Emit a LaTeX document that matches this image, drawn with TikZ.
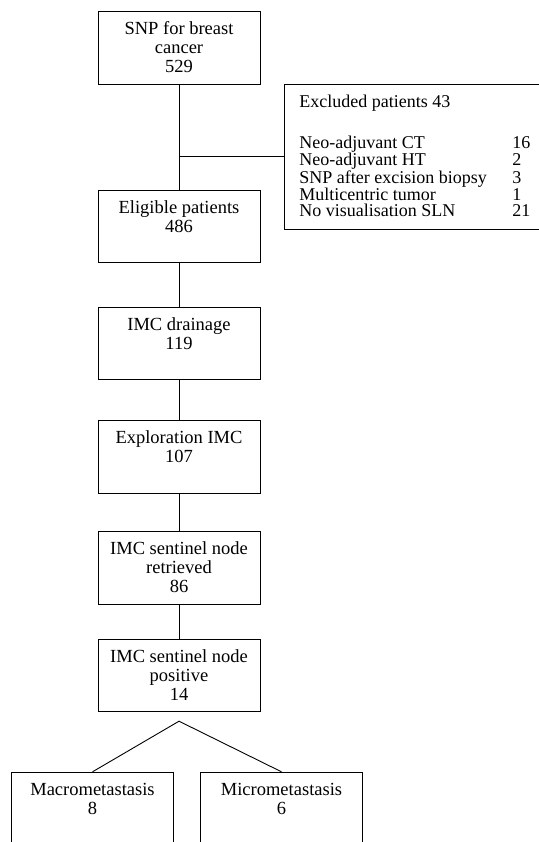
\documentclass[tikz,border=0pt]{standalone}
\usepackage{fontspec}
\setmainfont{Liberation Serif}
\usepackage{tikz}

\begin{document}
\begin{tikzpicture}[x=1pt,y=-1pt,line width=0.9pt,
  box/.style={draw,inner sep=0pt,
    execute at begin node={\begin{minipage}[t][72.5pt][t]{162pt}\centering\fontsize{18.5}{19}\selectfont\rule{0pt}{23pt}},
    execute at end node={\end{minipage}}},
  exbox/.style={draw,inner sep=0pt,anchor=north west}]
\useasboundingbox (0,0) rectangle (538,842);

% main column
\node[box] (snp) at (179,48) {SNP for breast\\cancer\\529};
\node[box] (elig) at (179,226.5) {Eligible patients\\486};
\node[box] (drain) at (179,343.5) {IMC drainage\\119};
\node[box] (expl) at (179,457) {Exploration IMC\\107};
\node[box] (retr) at (179,568) {IMC sentinel node\\retrieved\\86};
\node[box] (pos) at (179,675.5) {IMC sentinel node\\positive\\14};
\node[box] (macro) at (92.5,808.5) {Macrometastasis\\8};
\node[box] (micro) at (281.5,808.5) {Micrometastasis\\6};

% excluded
\node[exbox] (exc) at (284,84) {\begin{minipage}[t][145pt][t]{258pt}
  \fontsize{18}{16.3}\selectfont\leftskip=15pt
  \rule{0pt}{23pt}Excluded patients 43\\[23.5pt]
  \makebox[213pt][l]{Neo-adjuvant CT}16\\
  \makebox[213pt][l]{Neo-adjuvant HT}2\\
  \makebox[213pt][l]{SNP after excision biopsy}3\\
  \makebox[213pt][l]{Multicentric tumor}1\\
  \makebox[213pt][l]{No visualisation SLN}21
\end{minipage}};

\coordinate (jn) at (snp.south |- exc.west);
\coordinate (split) at ([yshift=-9pt]pos.south);

\draw (snp.south) -- (elig.north);
\draw (jn) -- (exc.west);
\draw (elig.south) -- (drain.north);
\draw (drain.south) -- (expl.north);
\draw (expl.south) -- (retr.north);
\draw (retr.south) -- (pos.north);
\draw (macro.north) -- (split) -- (micro.north);
\end{tikzpicture}
\end{document}
